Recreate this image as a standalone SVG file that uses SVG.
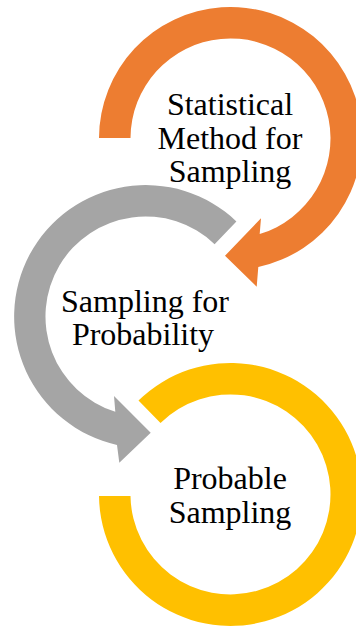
<svg xmlns="http://www.w3.org/2000/svg" width="356" height="628" viewBox="0 0 356 628">
  <style>
    .lbl { font-family: "Liberation Serif", "Times New Roman", serif; font-size: 32px; fill: #000000; text-anchor: middle; }
    .orange { fill: #ED7D31; }
    .gray { fill: #A5A5A5; }
    .yellow { fill: #FFC000; }
  </style>
  <rect width="356" height="628" fill="#FFFFFF"/>
  <g id="node-statistical">
    <path class="orange" d="M 99,138 A 131.5 131.5 0 1 1 258.3,267.0 L 256.7,286.7 L 225,255.7 L 261,218.3 L 259.7,234.1 A 100 100 0 1 0 130.5,138 Z"/>
    <text class="lbl" x="230" y="115">Statistical</text>
    <text class="lbl" x="230" y="148.5">Method for</text>
    <text class="lbl" x="230" y="182">Sampling</text>
  </g>
  <g id="node-probability">
    <path class="gray" d="M 236.4,221.4 A 131.5 131.5 0 1 0 117.0,444.9 L 119.3,462.7 L 150.7,432.7 L 114,396 L 115.3,411.8 A 100 100 0 1 1 214.6,244.2 Z"/>
    <text class="lbl" x="145" y="312">Sampling for</text>
    <text class="lbl" x="143" y="345">Probability</text>
  </g>
  <g id="node-probable">
    <path class="yellow" d="M 138.5,400.5 A 131.5 131.5 0 1 1 99,496 L 130.5,496 A 100 100 0 1 0 160.5,423 Z"/>
    <text class="lbl" x="230" y="489">Probable</text>
    <text class="lbl" x="230" y="522.5">Sampling</text>
  </g>
  <g id="connectors"></g>
</svg>
